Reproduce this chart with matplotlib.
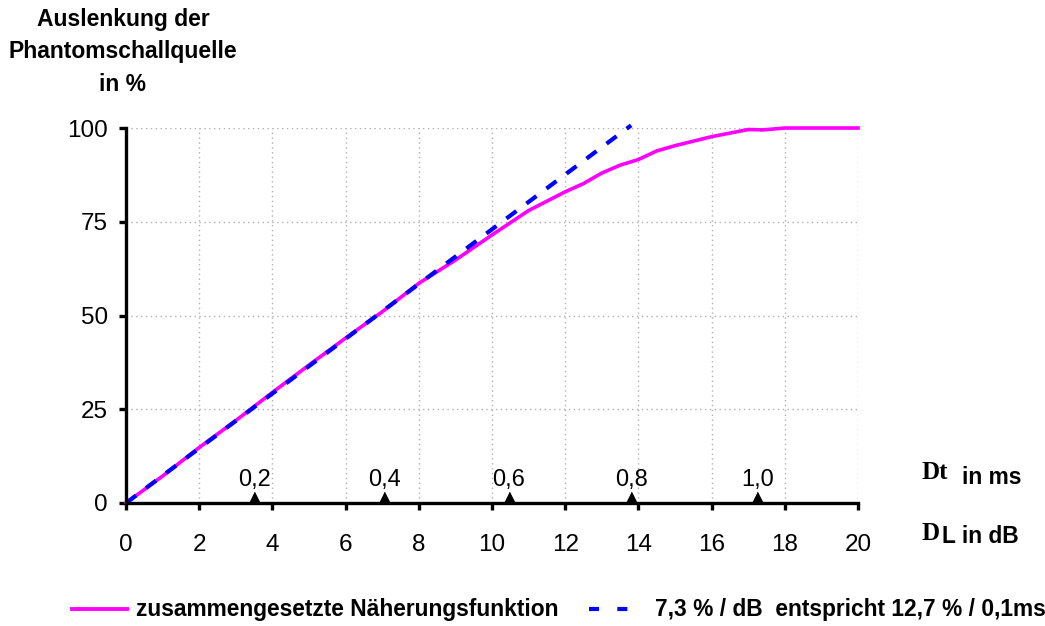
import matplotlib
matplotlib.use("Agg")
import matplotlib.pyplot as plt
from matplotlib.lines import Line2D

plt.rcParams['font.family'] = ['Liberation Sans', 'DejaVu Sans']

# Daten
dl_db = [0, 1, 2, 3, 4, 5, 6, 7, 8, 9, 10, 11, 12, 12.5, 13, 13.5, 14, 14.5, 15, 16, 17, 17.4, 18, 19, 20]
auslenkung = [0, 7.2, 14.8, 22.0, 29.5, 36.8, 44.0, 51.0, 58.6, 64.8, 71.5, 78.0, 83.0, 85.2,
              88.0, 90.1, 91.6, 93.9, 95.3, 97.7, 99.6, 99.5, 100, 100, 100]

lin_db = [0, 1, 2, 3, 4, 5, 6, 7, 8, 9, 10, 11, 12, 13, 13.8]
lin_val = [0, 7.3, 14.6, 21.9, 29.2, 36.5, 43.8, 51.1, 58.4, 65.7, 73.0, 80.3, 87.6, 94.9, 100.7]

ms_pos = [3.5, 7.05, 10.45, 13.8, 17.25]
ms_labels = ['0,2', '0,4', '0,6', '0,8', '1,0']

x_ticks = list(range(0, 21, 2))
y_ticks = [0, 25, 50, 75, 100]

MAGENTA = '#ff00ff'
BLAU = '#0000ff'

fig = plt.figure(figsize=(10.45, 6.26), dpi=100)
ax = fig.add_axes([0.1206, 0.1965, 0.7005, 0.599])

ax.plot(dl_db, auslenkung, color=MAGENTA, lw=2.6, clip_on=False, zorder=3)
ax.plot(lin_db, lin_val, color=BLAU, lw=3.0, dashes=(3.0, 3.0), clip_on=False, zorder=4)

ax.set_xlim(0, 20)
ax.set_ylim(0, 100)
ax.set_xticks(x_ticks)
ax.set_yticks(y_ticks)
ax.tick_params(axis='both', labelsize=17.5, width=2.4, length=5)
ax.tick_params(axis='x', pad=17)
ax.tick_params(axis='y', pad=8)
ax.grid(True, color='#b0b0b0', linestyle=(0, (1, 2.5)), lw=1)
for s in ['top', 'right']:
    ax.spines[s].set_visible(False)
for s in ['left', 'bottom']:
    ax.spines[s].set_linewidth(2.4)
    ax.spines[s].set_zorder(5)

# ms-Marken auf der Achse (Dreieck sitzt auf der Achse)
dreieck = [(-0.5, 0), (0.5, 0), (0, 1)]
ax.plot(ms_pos, [0] * len(ms_pos), linestyle='none', marker=dreieck, color='black',
        markersize=16, clip_on=False, zorder=6)
for p, lab in zip(ms_pos, ms_labels):
    ax.annotate(lab, (p, 0), xytext=(0, 12), textcoords='offset points',
                ha='center', va='baseline', fontsize=17)

# Achsbeschriftungen
fig.text(0.1177, 0.987, 'Auslenkung der\nPhantomschallquelle\nin %', ha='center', va='top',
         fontsize=16.5, fontweight='bold', linespacing=1.52)
fig.text(0.882, 0.2348, 'Dt', family='Liberation Serif', fontsize=18, fontweight='bold',
         ha='left', va='baseline')
fig.text(0.9205, 0.2268, 'in ms', fontsize=16.4, fontweight='bold', ha='left', va='baseline')
fig.text(0.882, 0.1374, 'D', family='Liberation Serif', fontsize=18, fontweight='bold',
         ha='left', va='baseline')
fig.text(0.9015, 0.1326, 'L in dB', fontsize=16.4, fontweight='bold', ha='left', va='baseline')

# Legende unten
leg_y = 0.027
fig.add_artist(Line2D([0.069, 0.1215], [leg_y, leg_y], color=MAGENTA, lw=2.8,
                      transform=fig.transFigure))
fig.text(0.130, leg_y, 'zusammengesetzte Näherungsfunktion', fontsize=16.4,
         fontweight='bold', ha='left', va='center')
fig.add_artist(Line2D([0.5636, 0.6029], [leg_y, leg_y], color=BLAU, lw=3.0, dashes=(2.4, 4.4),
                      dash_capstyle='butt', transform=fig.transFigure))
fig.text(0.627, leg_y, '7,3 % / dB  entspricht 12,7 % / 0,1ms', fontsize=16.4,
         fontweight='bold', ha='left', va='center')

fig.savefig('out.png', dpi=100)
